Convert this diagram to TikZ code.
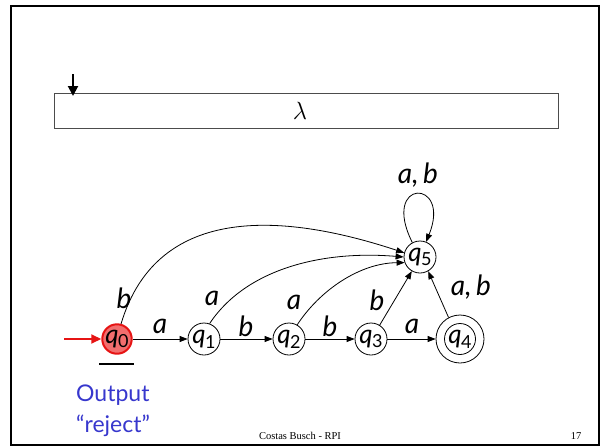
\documentclass[tikz,border=0pt]{standalone}
\usepackage{fontspec}
\setmainfont{Liberation Serif}
\newfontfamily\lblfont{Lato}
\usetikzlibrary{arrows.meta}
\definecolor{stateRed}{RGB}{230,20,20}
\definecolor{stateFill}{RGB}{242,110,110}
\definecolor{outBlue}{RGB}{55,55,205}
\newcommand{\lbl}[1]{{\lblfont\itshape #1}}
\newcommand{\stq}[1]{{\lblfont\itshape q}\kern-0.5pt\raisebox{-0.4ex}{\lblfont\fontsize{18}{18}\selectfont #1}}
\tikzset{
  x=1pt, y=1pt,
  state/.style={circle, draw, line width=0.8pt, minimum size=32pt, inner sep=0pt,
    font=\fontsize{26}{26}\selectfont},
  edge/.style={line width=0.8pt, -{Triangle[length=8pt,width=6pt]}},
  elabel/.style={font=\fontsize{28}{28}\selectfont, inner sep=0pt},
}
\begin{document}
\begin{tikzpicture}
\useasboundingbox (0,0) rectangle (602,-447);
% slide frame
\draw[line width=2pt] (11,-6) rectangle (599,-445);
% input tape with head
\node[draw=black!70, line width=0.8pt, minimum width=504pt, minimum height=35pt,
  inner sep=0pt] (tape) at (306,-111) {};
\node[font=\fontsize{24}{24}\selectfont] (lam) at (300,-111) {$\lambda$};
\coordinate (headtop) at (73,-74);
\coordinate (head) at (73,-96);
\draw[line width=2pt, -{Triangle[length=10pt,width=10pt]}] (headtop) -- (head);
% states
\node[state, draw=stateRed, fill=stateFill, line width=2pt, minimum size=29pt] (q0) at (117,-339) {\stq{0}};
\node[state] (q1) at (204,-339) {\stq{1}};
\node[state] (q2) at (289,-339) {\stq{2}};
\node[state] (q3) at (371,-339) {\stq{3}};
\node[state, minimum size=48pt] (q4) at (460,-339) {};
\node[state, minimum size=31pt] (q4in) at (460,-339) {\stq{4}};
\node[state] (q5) at (420,-257) {\stq{5}};
% initial arrow
\coordinate (start) at (64,-339);
\draw[stateRed, line width=1.8pt, -{Triangle[length=10pt,width=9pt]}] (start) -- (q0);
% transitions along the chain
\draw[edge] (q0) -- (q1);
\draw[edge] (q1) -- (q2);
\draw[edge] (q2) -- (q3);
\draw[edge] (q3) -- (q4);
\node[elabel] (la01) at (160,-326) {\lbl{a}};
\node[elabel] (lb12) at (246,-326) {\lbl{b}};
\node[elabel] (lb23) at (330,-326) {\lbl{b}};
\node[elabel] (la34) at (412,-326) {\lbl{a}};
% transitions into the trap state
\draw[edge] (q0.75) .. controls (158,-200) and (290,-215) .. (q5.165);
\draw[edge] (q1.70) .. controls (245,-270) and (320,-250) .. (q5.180);
\draw[edge] (q2.60) .. controls (320,-290) and (360,-263) .. (q5.200);
\draw[edge] (q3.58) -- (q5.240);
\draw[edge] (q4.118) -- (q5.300);
\draw[edge] (q5.118) .. controls (380,-178) and (452,-178) .. (q5.68);
\node[elabel] (lb05) at (124,-298) {\lbl{b}};
\node[elabel] (la15) at (212,-298) {\lbl{a}};
\node[elabel] (la25) at (294,-302) {\lbl{a}};
\node[elabel] (lb35) at (377,-300) {\lbl{b}};
\node[elabel] (lab45) at (471,-287) {\lbl{a,\,b}};
\node[elabel] (lab55) at (418,-175) {\lbl{a,\,b}};
% output marker
\coordinate (ulA) at (99,-364);
\coordinate (ulB) at (134,-364);
\draw[line width=2.4pt] (ulA) -- (ulB);
\node[anchor=west, text=outBlue, font=\lblfont\fontsize{23}{23}\selectfont, inner sep=0pt] (out1) at (76,-395) {Output};
\node[anchor=west, text=outBlue, font=\lblfont\fontsize{23}{23}\selectfont, inner sep=0pt] (out2) at (76,-426) {“reject”};
% footer
\node[font=\fontsize{10.5}{10.5}\selectfont] (foot) at (300,-436) {Costas Busch - RPI};
\node[font=\fontsize{10.5}{10.5}\selectfont] (page) at (576,-436) {17};
\end{tikzpicture}
\end{document}
